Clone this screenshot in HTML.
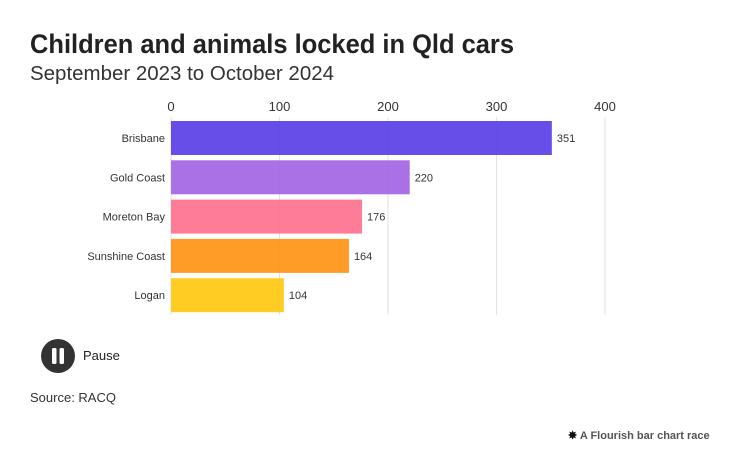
<!DOCTYPE html>
<html><head><meta charset="utf-8"><style>
body{margin:0;width:736px;height:463px;background:#fff;overflow:hidden;font-family:"Liberation Sans",sans-serif;}
</style></head><body>
<svg width="736" height="463">
<text x="30" y="53" font-size="27" font-weight="bold" fill="#222" textLength="484" lengthAdjust="spacingAndGlyphs">Children and animals locked in Qld cars</text>
<text x="30" y="80" font-size="20" fill="#333" textLength="304" lengthAdjust="spacingAndGlyphs">September 2023 to October 2024</text>
<g id="grid"></g>
<g id="bars"></g>
<g>
<circle cx="58" cy="356" r="17" fill="#333"/>
<rect x="52" y="348" width="4.5" height="16" rx="1.5" fill="#fff"/>
<rect x="59.5" y="348" width="4.5" height="16" rx="1.5" fill="#fff"/>
<text x="83" y="360" font-size="13" fill="#222">Pause</text>
</g>
<text x="30" y="402" font-size="13" fill="#333">Source: RACQ</text>
<text x="568" y="439" font-size="11" font-weight="bold" fill="#555"><tspan fill="#111">✸</tspan> A Flourish bar chart race</text>
</svg>
<script>
const categories=["Brisbane","Gold Coast","Moreton Bay","Sunshine Coast","Logan"];
const values=[351,220,176,164,104];
const colors=["#5b41e6","#a465e4","#ff7290","#ff9418","#ffc812"];
const ticks=[0,100,200,300,400];
const NS="http://www.w3.org/2000/svg";
const x0=171,x1=605,xMax=400;
const xs=v=>x0+(v/xMax)*(x1-x0);
const yTop=121,step=39.3,bh=34;
const ys=i=>yTop+i*step;
function mk(t,a,p){const e=document.createElementNS(NS,t);for(const k in a)e.setAttribute(k,a[k]);p.appendChild(e);return e;}
const g=document.getElementById('grid'),b=document.getElementById('bars');
ticks.forEach(t=>{
 const l=mk('line',{x1:xs(t),x2:xs(t),y1:117,y2:315,stroke:'#e2e2e2','stroke-width':1},g);
 
 
 const tx=mk('text',{x:xs(t),y:111,'font-size':13,'text-anchor':'middle',fill:'#333'},g);
 tx.textContent=t;
 
 
});
categories.forEach((c,i)=>{
 const y=ys(i);
 const r=mk('rect',{x:x0,y:y,width:xs(values[i])-x0,height:bh,fill:colors[i],'fill-opacity':0.93},b);
 
 
 const lb=mk('text',{x:x0-6,y:y+bh/2+4,'font-size':11,'text-anchor':'end',fill:'#333'},b);
 lb.textContent=c;
 
 
 const vl=mk('text',{x:xs(values[i])+5,y:y+bh/2+4,'font-size':11,fill:'#333'},b);
 vl.textContent=values[i];
 
 
});
</script>
</body></html>
